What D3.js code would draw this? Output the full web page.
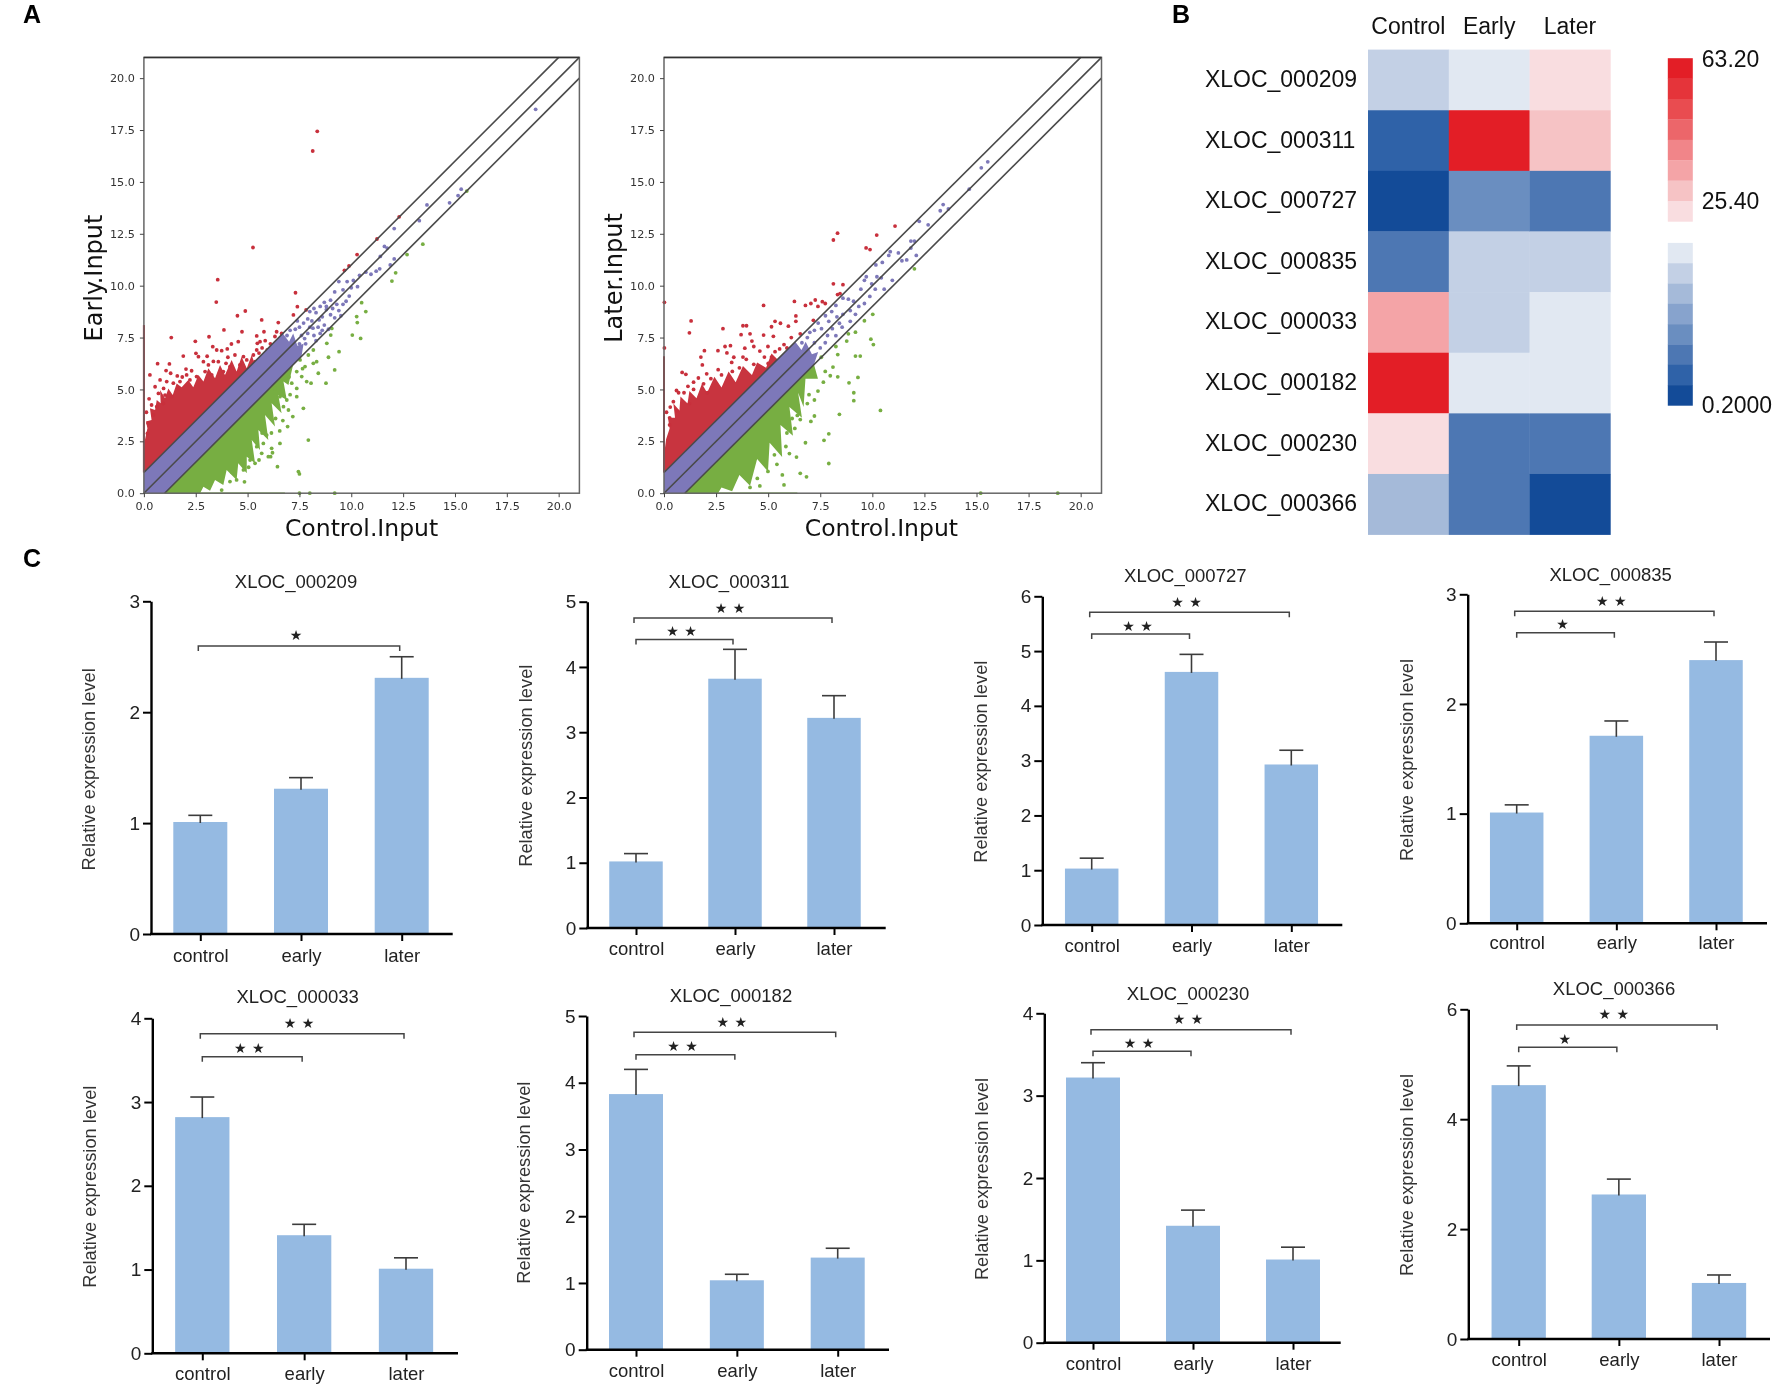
<!DOCTYPE html>
<html><head><meta charset="utf-8">
<script src="https://cdn.jsdelivr.net/npm/d3@7/dist/d3.min.js"></script>
<style>
html,body{margin:0;padding:0;background:#fff}
svg{display:block;filter:blur(0.45px)}
text{font-family:"Liberation Sans",Arial,sans-serif}
.mpl text{font-family:"DejaVu Sans",sans-serif}
</style></head><body>
<script>
// ---------- Panel A data ----------
const scatterTicks=[0,2.5,5,7.5,10,12.5,15,17.5,20];
const earlyRedCloud=[[0,1],[5.75,6.75],[5.6,6.5],[5.36,6.18],[5.2,6.66],[4.96,6.02],[4.71,6.58],[4.47,5.86],[4.23,6.42],[3.91,5.7],[3.67,6.18],[3.43,5.54],[3.11,6.02],[2.87,5.38],[2.63,5.7],[2.38,5.1],[2.14,5.46],[1.82,5.1],[1.58,5.29],[1.39,4.73],[1.18,5.05],[1.02,4.57],[0.78,4.97],[0.81,4.33],[0.62,4.49],[0.54,4.01],[0.29,4.09],[0.37,3.53],[0.1,3.45],[0.17,3.13],[0.05,2.56],[0,1.8]];
const earlyGreenCloud=[[1,0],[7.2,6.2],[6.97,5.21],[6.73,5.38],[6.89,4.49],[6.48,4.73],[6.64,3.85],[6.16,4.33],[6.32,3.21],[5.84,3.77],[6.0,2.56],[5.52,3.05],[5.6,2.08],[5.2,2.56],[5.36,1.44],[4.96,1.76],[4.96,0.96],[4.55,1.44],[4.47,0.64],[3.99,1.12],[3.83,0.4],[3.43,0.64],[3.19,0.12],[2.87,0.31],[2.71,0]];
const earlyBand=[[0,0],[0,1],[6.7,7.7],[7.0,7.3],[7.2,7.7],[7.4,7.1],[7.7,7.2],[7.6,6.6],[1,0]];
const earlyRedPoints=[[8.36,17.44],[8.14,16.49],[5.26,11.84],[3.56,10.29],[3.49,9.21],[7.31,9.66],[10.28,11.5],[9.89,10.95],[9.67,10.74],[11.24,12.25],[12.31,13.32],[7.82,8.83],
[1.32,7.5],[2.48,7.32],[3.14,7.54],[3.86,7.87],[4.51,8.55],[4.89,8.78],[5.68,8.35],[6.48,8.22],[7.21,8.59],[7.4,8.99],[4.73,7.78],[5.79,7.78],[4.55,7.3],[5.44,7.58],[0.66,6.24],[1.23,6.23],[1.9,6.61],[2.51,6.74],[2.63,6.58],[3.32,7.06],[3.51,6.9],[3.75,6.87],[4.02,6.95],[4.22,7.19],[0.29,5.7],[1.07,5.91],[1.29,5.78],[1.61,5.65],[2.03,5.98],[2.06,5.7],[2.87,6.34],[3.11,6.18],[3.59,6.34],[3.96,6.26],[4.39,6.66],[4.8,6.58],[5.28,6.66],[5.47,7.22],[5.44,6.9],[6.32,7.55],[6.4,7.78],[6.64,7.7],[5.36,6.34],[4.63,6.18],[0.78,5.46],[1.1,5.38],[1.42,5.3],[0.54,5.13],[0.7,4.81],[1.02,4.73],[1.74,5.38],[2.22,5.46],[2.54,5.62],[2.95,5.86],[3.27,5.7],[0.37,4.25],[0.62,4.17],[0.21,3.37],[0.45,3.77],[0.17,2.88],[0.94,4.33],[1.34,4.65],[1.66,5.05],[4.15,6.1],[4.96,6.42],[3.83,5.86],
[5.7,7.0],[5.95,6.9],[6.1,7.2],[5.6,7.3],[5.55,6.75],[4.05,6.55],[3.35,6.35],[2.3,5.9],[1.85,5.6],[0.95,5.05],[0.25,4.55],[0.12,3.9],[3.05,6.6],[5.85,7.35]];
const earlyGreenPoints=[[10.5,9.18],[10.7,8.75],[10.26,8.51],[10.29,8.22],[10.05,7.62],[10.45,7.46],[9.41,6.82],[9.01,7.62],[9.06,7.94],[8.82,7.22],[9.2,5.94],[8.9,6.55],[8.41,5.78],[8.33,6.34],[7.93,6.66],[8.17,6.9],[8.78,5.3],[8.06,5.3],[7.61,5.62],[7.69,4.09],[7.37,4.65],[7.93,2.56],[7.45,1.04],[7.5,0.93],[6.93,3.21],[7.18,3.69],[6.11,1.76],[6.44,1.28],[6.32,5.05],[6.97,4.01],[6.73,4.17],[6.56,4.65],[6.89,4.49],[5.92,2.8],[5.76,2.4],[5.44,2.24],[5.36,1.44],[5.12,1.6],[4.8,1.12],[4.47,0.64],[4.15,0.56],[6.16,2.16],[5.68,1.92],[7.13,5.3],[7.37,5.86],[7.77,6.1],[8.17,6.26],[7.53,6.42],[7.85,5.38],[7.37,5.05],[6.56,2.4],[6.0,1.76],[11.96,10.22],[12.14,10.62],[12.69,11.5],[13.45,12.0],[15.57,14.56],[7.5,0],[8.0,0],[9.2,0],
[6.35,3.6],[6.7,3.5],[7.05,4.75],[6.15,2.9],[5.7,2.9],[5.55,1.6],[4.85,0.55],[4.25,1.0],[3.75,0.15],[6.55,3.0],[7.0,5.6],[7.65,6.0],[6.2,1.95],[5.05,1.25]];
const earlyPurplePoints=[[18.89,18.5],[15.3,14.65],[15.15,14.34],[14.74,13.99],[13.65,13.89],[13.28,13.13],[12.07,12.75],[11.73,11.81],[11.4,11.41],[12.07,11.29],[11.37,10.81],[11.88,11.0],[11.6,11.89],[10.4,10.5],[10.7,10.65],[10.95,10.55],[11.2,10.7],[10.1,10.25],[9.8,10.2],[9.4,10.2],[9.6,9.8],[10.0,9.9],[10.3,9.95],[9.9,9.5],[9.2,9.7],[9.0,9.3],[8.7,9.2],[8.5,9.0],[8.8,8.85],[9.1,8.9],[9.3,9.1],[9.0,8.6],[8.6,8.5],[8.3,8.7],[8.1,8.3],[8.4,8.0],[8.7,8.1],[8.9,7.9],[9.4,8.8],[9.6,9.1],[7.9,8.4],[7.7,8.2],[7.5,8.0],[7.3,7.9],[7.6,7.6],[7.9,7.7],[8.2,7.6],[7.8,7.2],[7.5,7.2],[7.2,7.3],[6.9,7.6],[7.0,7.1],[8.0,8.0],[8.5,7.7],[7.3,6.8],
[8.2,8.9],[7.4,8.3],[8.0,8.75],[8.8,9.0],[8.45,8.35],[8.15,7.95],[8.6,7.85],[7.75,7.45],[7.05,7.85],[8.3,7.35],[9.2,8.45],[9.5,8.55],[9.75,9.25]];
const earlyRedStreak=[[0,1],[0,8.1]];
const earlyGreenStreak=[[1,0],[6.8,0]];

const laterRedCloud=[[0,1],[5.8,6.8],[5.5,6.39],[5.16,6.73],[4.9,6.04],[4.47,6.3],[4.22,5.7],[3.79,6.13],[3.44,5.35],[3.1,5.87],[2.76,5.09],[2.42,5.61],[2.07,4.84],[1.82,5.27],[1.56,4.58],[1.22,4.92],[1.13,4.32],[0.79,4.66],[0.74,3.98],[0.45,4.32],[0.53,3.63],[0.19,3.63],[0.27,3.12],[0.1,2.6],[0,1.8]];
const laterGreenCloud=[[1,0],[7.2,6.2],[7.39,5.52],[6.79,5.52],[6.7,4.15],[6.44,4.84],[6.62,3.63],[6.02,4.15],[6.19,2.77],[5.59,3.29],[5.67,1.74],[5.07,2.43],[4.99,1.05],[4.47,1.65],[4.13,0.36],[3.62,0.88],[3.27,0.1],[2.76,0.28],[2.59,0]];
const laterBand=[[0,0],[0,1],[6.3,7.3],[6.6,6.9],[6.8,7.3],[7.1,6.7],[7.4,6.8],[7.2,6.2],[1,0]];
const laterRedPoints=[[8.33,12.53],[8.13,12.2],[11.09,12.87],[10.21,12.44],[9.7,11.82],[9.89,11.74],[8.13,10.09],[8.59,10.05],[8.33,9.57],[8.45,9.62],[4.78,9.05],[6.26,9.24],[6.79,9.05],[7.05,9.14],[7.26,9.31],[7.39,9.0],[7.6,9.23],[7.74,9.14],[1.3,8.3],[1.22,7.73],[2.83,7.93],[3.79,8.07],[3.96,8.07],[5.33,8.28],[5.59,8.19],[5.97,8.05],[5.16,8.02],[6.33,8.54],[6.33,8.28],[7.17,8.33],[0.02,9.2],[0.02,7.0],[1.94,6.87],[1.77,6.56],[1.84,6.18],[2.59,6.87],[2.93,7.07],[3.19,7.11],[3.02,6.76],[3.7,7.64],[4.13,7.68],[4.22,7.33],[3.88,6.99],[3.79,6.56],[4.78,7.62],[5.25,7.56],[4.99,7.07],[4.31,7.07],[5.33,6.82],[6.11,7.5],[5.76,7.16],[6.54,7.68],[0.87,5.82],[1.05,5.73],[0.7,4.84],[0.96,4.84],[1.42,5.35],[1.42,5.0],[1.9,5.27],[2.25,5.52],[2.76,5.7],[3.28,5.87],[3.62,6.04],[4.31,6.21],[4.82,6.56],[5.16,6.56],[0.45,4.41],[0.27,3.63],[0.62,3.98],[1.22,4.32],[2.08,4.84],[0.27,3.29],
[5.55,6.95],[5.9,7.0],[4.6,6.85],[3.95,6.45],[3.25,6.3],[2.6,5.95],[2.05,5.75],[1.65,5.55],[1.15,5.15],[0.6,4.95],[0.3,4.15],[0.12,3.9],[5.0,6.25],[3.35,6.55]];
const laterGreenPoints=[[10.39,3.99],[7.91,1.43],[7.91,2.86],[7.68,2.55],[8.42,3.8],[9.11,4.84],[9.11,4.46],[8.88,5.32],[9.31,5.58],[7.98,5.66],[8.34,5.61],[7.74,5.87],[8.11,6.08],[9.19,6.61],[9.42,6.61],[8.34,6.68],[8.25,7.07],[8.77,7.33],[8.85,7.68],[9.19,7.76],[9.62,8.31],[10.02,8.62],[9.93,7.42],[10.05,7.16],[12.02,10.81],[6.84,5.92],[7.39,4.92],[7.65,5.35],[7.22,4.49],[7.05,3.46],[7.22,3.72],[6.79,2.43],[6.84,0.79],[6.54,0.96],[5.76,0.4],[5.68,0.88],[6.36,1.74],[6.02,1.91],[5.85,2.25],[6.28,3.12],[6.54,3.55],[6.88,4.32],[6.96,4.75],[6.62,4.75],[5.42,1.39],[4.99,1.05],[4.48,0.71],[4.13,0.28],[15.2,0],[18.9,0],
[7.55,6.55],[7.0,5.85],[6.4,3.75],[5.3,1.85],[4.75,1.55],[4.6,0.35],[6.15,3.6],[5.9,2.9]];
const laterPurplePoints=[[15.54,15.97],[15.23,15.68],[14.65,14.65],[13.65,13.7],[13.4,13.91],[13.26,13.61],[12.68,12.93],[12.25,13.1],[12.02,12.15],[11.85,12.15],[12.11,11.46],[11.85,11.81],[11.42,11.2],[11.65,11.24],[11.25,11.58],[10.79,11.46],[10.86,11.64],[10.48,11.12],[10.17,11.0],[10.22,10.43],[10.43,10.38],[10.96,10.26],[10.57,9.83],[10.14,9.83],[9.71,10.43],[9.62,10.26],[9.45,9.83],[9.97,10.09],[9.88,9.48],[9.62,9.14],[8.85,9.35],[8.59,9.4],[8.25,9.05],[8.94,8.8],[9.19,8.62],[8.59,8.62],[7.91,8.28],[7.56,7.93],[8.08,7.93],[7.22,7.85],[8.42,8.19],[8.94,8.28],[8.25,7.59],[7.74,7.25],[7.22,7.25],[6.88,7.5],[6.62,7.25],
[7.0,7.75],[7.4,8.2],[7.75,8.55],[8.05,8.75],[8.3,8.5],[7.85,7.6],[8.55,8.0],[7.5,7.0],[9.35,9.0],[9.1,9.25]];
const laterRedStreak=[[0,1],[0,6.6]];
const laterGreenStreak=[[1,0],[6.4,0]];

// ---------- Panel B data ----------
const heatColumns=["Control","Early","Later"];
const genes=["XLOC_000209","XLOC_000311","XLOC_000727","XLOC_000835","XLOC_000033","XLOC_000182","XLOC_000230","XLOC_000366"];
const heatControl=[20.7,4.9,1.8,8.1,37.2,60.8,27.8,17.5];
const heatEarly=[23.8,60.8,11.2,20.7,20.7,23.8,8.1,8.1];
const heatLater=[27.8,32.5,8.1,20.7,23.8,23.8,8.1,1.8];
const heatLegendLabels=["63.20","25.40","0.2000"];

// ---------- Panel C data ----------
const groups=["control","early","later"];
const means209=[1.01,1.31,2.31], errTop209=[1.07,1.41,2.50];
const means311=[1.02,3.82,3.22], errTop311=[1.14,4.27,3.56];
const means727=[1.03,4.62,2.93], errTop727=[1.22,4.94,3.19];
const means835=[1.01,1.71,2.40], errTop835=[1.08,1.845,2.565];
const means033=[2.82,1.41,1.01], errTop033=[3.06,1.54,1.14];
const means182=[3.83,1.04,1.38], errTop182=[4.20,1.13,1.52];
const means230=[3.22,1.42,1.01], errTop230=[3.40,1.61,1.16];
const means366=[4.62,2.63,1.02], errTop366=[4.97,2.91,1.165];
const yMaxes=[3,5,6,3,4,5,4,6];
const yTickStep=[1,1,1,1,1,1,1,2];
// brackets: [from group, to group, value, stars]
const brackets209=[[0,2,2.597,1]];
const brackets311=[[0,1,4.42,2],[0,2,4.75,2]];
const brackets727=[[0,1,5.31,2],[0,2,5.71,2]];
const brackets835=[[0,1,2.65,1],[0,2,2.845,2]];
const brackets033=[[0,1,3.54,2],[0,2,3.817,2]];
const brackets182=[[0,1,4.42,2],[0,2,4.755,2]];
const brackets230=[[0,1,3.54,2],[0,2,3.80,2]];
const brackets366=[[0,1,5.31,1],[0,2,5.716,2]];

// ---------- Layout ----------
const W=1772,H=1386;
const svg=d3.select("body").append("svg").attr("width",W).attr("height",H).attr("viewBox",`0 0 ${W} ${H}`);

const panelLetters=[["A",23,23.4],["B",1172,23.4],["C",23,567]];
svg.selectAll(".letter").data(panelLetters).join("text").attr("class","letter")
 .attr("x",d=>d[1]).attr("y",d=>d[2]).attr("font-size",25).attr("font-weight","bold").attr("fill","#000").text(d=>d[0]);

// ---------- Panel A drawing ----------
function scatter(o){
 const g=svg.append("g").attr("class","mpl");
 const x=d3.scaleLinear().domain([0,21]).range([o.left,o.right]);
 const y=d3.scaleLinear().domain([0,21]).range([493.2,57.4]);
 const line=d3.line().x(d=>x(d[0])).y(d=>y(d[1]));
 g.append("path").attr("d",line(o.redCloud)+"Z").attr("fill","#C8343F");
 g.append("path").attr("d",line(o.greenCloud)+"Z").attr("fill","#77AE42");
 g.append("path").attr("d",line(o.redStreak)).attr("stroke","#B3202B").attr("stroke-width",2).attr("fill","none");
 g.append("path").attr("d",line(o.greenStreak)).attr("stroke","#77AE42").attr("stroke-width",1.5).attr("fill","none");
 [[o.redPts,"#C8303C"],[o.greenPts,"#77AE42"],[o.purplePts,"#7D78B9"]].forEach(([pts,c])=>{
  g.append("g").selectAll("circle").data(pts).join("circle")
   .attr("cx",d=>x(d[0])).attr("cy",d=>y(d[1])).attr("r",1.9).attr("fill",c);
 });
 g.append("path").attr("d",line(o.band)+"Z").attr("fill","#7D78B9");
 [[[0,1],[20,21]],[[0,0],[21,21]],[[1,0],[21,20]]].forEach(l=>{
  g.append("path").attr("d",line(l)).attr("stroke","#4a4a4a").attr("stroke-width",1.6).attr("fill","none");
 });
 g.append("rect").attr("x",o.left).attr("y",y(21)).attr("width",o.right-o.left).attr("height",y(0)-y(21))
  .attr("fill","none").attr("stroke","#666").attr("stroke-width",1.5);
 g.append("line").attr("x1",o.left).attr("x2",o.right).attr("y1",y(21)).attr("y2",y(21)).attr("stroke","#333").attr("stroke-width",1.5);
 const fmt=d3.format(".1f");
 const ax=g.append("g").attr("transform",`translate(0,${y(0)})`).call(d3.axisBottom(x).tickValues(scatterTicks).tickFormat(fmt).tickSize(4).tickPadding(5));
 const ay=g.append("g").attr("transform",`translate(${o.left},0)`).call(d3.axisLeft(y).tickValues(scatterTicks).tickFormat(fmt).tickSize(4).tickPadding(5));
 [ax,ay].forEach(a=>{a.select(".domain").remove();a.selectAll("text").attr("font-size",11.2).attr("fill","#333");a.selectAll("line").attr("stroke","#444");});
 g.append("text").attr("x",o.xLabelX).attr("y",527.8).attr("text-anchor","middle").attr("dominant-baseline","central").attr("font-size",23.5).attr("fill","#111").text("Control.Input");
 g.append("text").attr("transform",`translate(${o.yLabelX},${278})rotate(-90)`).attr("text-anchor","middle").attr("dominant-baseline","central").attr("font-size",24).attr("fill","#111").text(o.yLabel);
}
scatter({left:143.9,right:579.4,xLabelX:361.6,yLabelX:93.8,yLabel:"Early.Input",redCloud:earlyRedCloud,greenCloud:earlyGreenCloud,band:earlyBand,redPts:earlyRedPoints,greenPts:earlyGreenPoints,purplePts:earlyPurplePoints,redStreak:earlyRedStreak,greenStreak:earlyGreenStreak});
scatter({left:664,right:1101.5,xLabelX:881.4,yLabelX:614.3,yLabel:"Later.Input",redCloud:laterRedCloud,greenCloud:laterGreenCloud,band:laterBand,redPts:laterRedPoints,greenPts:laterGreenPoints,purplePts:laterPurplePoints,redStreak:laterRedStreak,greenStreak:laterGreenStreak});

// ---------- Panel B drawing ----------
const heatPalette=["#134B98","#2F62A8","#4D77B3","#6A8EC0","#87A3CD","#A5BAD9","#C3D0E5","#E1E8F2","#F9DDE0","#F6C3C5","#F4A4A7","#F18589","#EC666A","#E94C50","#E5343A","#E31E26"];
const blueEdges=d3.range(1,9).map(i=>0.2+3.15*i);
const redEdges=d3.range(1,8).map(i=>25.4+4.725*i);
const heatColor=d3.scaleThreshold().domain(blueEdges.concat(redEdges)).range(heatPalette);
const hx=d3.scaleBand().domain(heatColumns).range([1368,1610.4]);
const hy=d3.scaleBand().domain(genes).range([49.6,534.6]);
const heatRows=[heatControl,heatEarly,heatLater];
heatColumns.forEach((c,ci)=>{
 svg.append("g").selectAll("rect").data(genes).join("rect")
  .attr("x",hx(c)).attr("y",g=>hy(g)).attr("width",hx.bandwidth()+0.3).attr("height",hy.bandwidth()+0.3)
  .attr("fill",(g,i)=>heatColor(heatRows[ci][i]));
});
svg.selectAll(".hcol").data(heatColumns).join("text").attr("class","hcol")
 .attr("x",c=>hx(c)+hx.bandwidth()/2).attr("y",25.7).attr("text-anchor","middle").attr("dominant-baseline","central")
 .attr("font-size",23).attr("fill","#111").text(c=>c);
svg.selectAll(".hrow").data(genes).join("text").attr("class","hrow")
 .attr("x",1204.9).attr("y",g=>hy(g)+hy.bandwidth()/2-1).attr("dominant-baseline","central")
 .attr("font-size",23).attr("fill","#111").text(g=>g);
// colour legend
const redSteps=heatPalette.slice(8).reverse(), blueSteps=heatPalette.slice(0,8).reverse();
const legendRed=d3.scaleBand().domain(d3.range(8)).range([58.2,221.4]);
const legendBlue=d3.scaleBand().domain(d3.range(8)).range([242.9,405.4]);
svg.append("g").selectAll("rect").data(redSteps).join("rect").attr("x",1667.8).attr("width",25)
 .attr("y",(d,i)=>legendRed(i)).attr("height",legendRed.bandwidth()+0.3).attr("fill",d=>d);
svg.append("g").selectAll("rect").data(blueSteps).join("rect").attr("x",1667.8).attr("width",25)
 .attr("y",(d,i)=>legendBlue(i)).attr("height",legendBlue.bandwidth()+0.3).attr("fill",d=>d);
const legendLabelY=[59,201,405.4];
svg.selectAll(".hleg").data(heatLegendLabels).join("text").attr("class","hleg")
 .attr("x",1701.8).attr("y",(d,i)=>legendLabelY[i]).attr("dominant-baseline","central")
 .attr("font-size",23).attr("fill","#111").text(d=>d);

// ---------- Panel C drawing ----------
const barPanels=[
 {i:0,m:means209,e:errTop209,b:brackets209,ax:151,y0:934,yt:601.3,end:452.7,c0:200.3,c2:401.7,bw:54,tx:296,ty:581,lx:88.7,ly:769.3,cy:955},
 {i:1,m:means311,e:errTop311,b:brackets311,ax:587.3,y0:928,yt:601.7,end:885.7,c0:636,c2:834,bw:53.5,tx:729,ty:581.7,lx:525,ly:765.7,cy:948},
 {i:2,m:means727,e:errTop727,b:brackets727,ax:1042.3,y0:925,yt:596.3,end:1342.3,c0:1091.7,c2:1291.3,bw:53.5,tx:1185.3,ty:575.7,lx:980.7,ly:761.7,cy:945},
 {i:3,m:means835,e:errTop835,b:brackets835,ax:1467.7,y0:923.3,yt:594.3,end:1767,c0:1516.7,c2:1716,bw:53.5,tx:1610.7,ty:574,lx:1406,ly:760,cy:943},
 {i:4,m:means033,e:errTop033,b:brackets033,ax:152.3,y0:1353.3,yt:1018.3,end:458,c0:202.3,c2:406,bw:54.3,tx:297.7,ty:996.7,lx:89,ly:1186.7,cy:1374},
 {i:5,m:means182,e:errTop182,b:brackets182,ax:586.7,y0:1349.7,yt:1016,end:889,c0:636,c2:837.7,bw:54,tx:731,ty:995.7,lx:523,ly:1182.7,cy:1370.7},
 {i:6,m:means230,e:errTop230,b:brackets230,ax:1044.3,y0:1342.7,yt:1013.3,end:1340.7,c0:1093,c2:1293,bw:54,tx:1188,ty:993.3,lx:981.7,ly:1179,cy:1363.3},
 {i:7,m:means366,e:errTop366,b:brackets366,ax:1468.3,y0:1339,yt:1009.3,end:1770,c0:1518.7,c2:1719,bw:54.3,tx:1614,ty:988.3,lx:1406,ly:1175,cy:1359.3}
];
barPanels.forEach(p=>{
 const g=svg.append("g");
 const x=d3.scalePoint().domain(groups).range([p.c0,p.c2]);
 const y=d3.scaleLinear().domain([0,yMaxes[p.i]]).range([p.y0,p.yt]);
 const rows=groups.map((k,j)=>({k,m:p.m[j],e:p.e[j]}));
 g.selectAll("rect").data(rows).join("rect").attr("x",d=>x(d.k)-p.bw/2).attr("width",p.bw)
  .attr("y",d=>y(d.m)).attr("height",d=>y(0)-y(d.m)).attr("fill","#95BAE2");
 g.selectAll(".stem").data(rows).join("line").attr("class","stem").attr("x1",d=>x(d.k)).attr("x2",d=>x(d.k))
  .attr("y1",d=>y(d.m)+1).attr("y2",d=>y(d.e)).attr("stroke","#3c3c3c").attr("stroke-width",1.6);
 g.selectAll(".cap").data(rows).join("line").attr("class","cap").attr("x1",d=>x(d.k)-12).attr("x2",d=>x(d.k)+12)
  .attr("y1",d=>y(d.e)).attr("y2",d=>y(d.e)).attr("stroke","#3c3c3c").attr("stroke-width",1.6);
 // axes
 const ay=g.append("g").attr("transform",`translate(${p.ax},0)`)
  .call(d3.axisLeft(y).tickValues(d3.range(0,yMaxes[p.i]+1,yTickStep[p.i])).tickFormat(d3.format("d")).tickSize(8).tickSizeOuter(0).tickPadding(3));
 ay.selectAll("text").attr("font-size",19).attr("fill","#222");
 ay.selectAll("line").attr("stroke","#000").attr("stroke-width",2);
 ay.select(".domain").attr("stroke","#000").attr("stroke-width",2.4);
 const ax=g.append("g").attr("transform",`translate(0,${p.y0})`)
  .call(d3.axisBottom(x).tickSize(7).tickSizeOuter(0).tickPadding(0));
 ax.select(".domain").remove();
 ax.selectAll("line").attr("stroke","#000").attr("stroke-width",2);
 ax.selectAll("text").attr("font-size",18.5).attr("fill","#222").attr("dy",null).attr("dominant-baseline","central")
  .attr("y",p.cy-p.y0);
 g.append("line").attr("x1",p.ax-1).attr("x2",p.end).attr("y1",p.y0).attr("y2",p.y0).attr("stroke","#000").attr("stroke-width",2.4);
 // title and y label
 g.append("text").attr("x",p.tx).attr("y",p.ty).attr("text-anchor","middle").attr("dominant-baseline","central")
  .attr("font-size",18.5).attr("fill","#222").text(genes[p.i]);
 g.append("text").attr("transform",`translate(${p.lx},${p.ly})rotate(-90)`).attr("text-anchor","middle").attr("dominant-baseline","central")
  .attr("font-size",18.3).attr("fill","#333").text("Relative expression level");
 // significance brackets
 p.b.forEach(b=>{
  const long=b[1]===2;
  const x1=x(groups[b[0]])-(long?2:0), x2=x(groups[b[1]])-2, yy=y(b[2]);
  g.append("path").attr("d",d3.line()([[x1,yy+5],[x1,yy],[x2,yy],[x2,yy+5]])).attr("fill","none").attr("stroke","#444").attr("stroke-width",1.5);
  const mid=(x1+x2)/2-3;
  const starXs=b[3]===2?[mid-9,mid+9]:[mid];
  g.selectAll(null).data(starXs).join("text").attr("x",d=>d).attr("y",yy-(long?10.5:8.5))
   .attr("text-anchor","middle").attr("dominant-baseline","central").attr("font-size",14)
   .style("font-family",'"DejaVu Sans",sans-serif').attr("fill","#222").text("★");
 });
});
</script>
</body></html>
